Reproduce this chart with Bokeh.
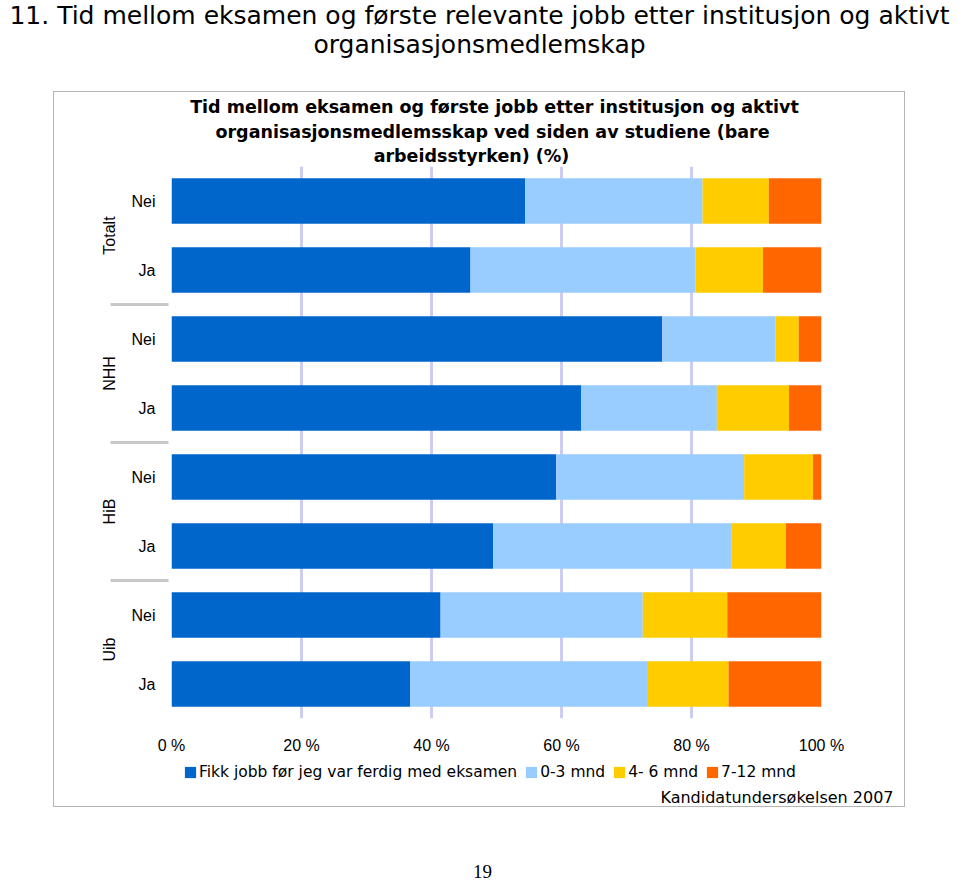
from bokeh.plotting import figure
from bokeh.models import (FactorRange, ColumnDataSource, Label, Range1d,
                          Legend, LegendItem, FixedTicker)
from bokeh.layouts import column
from bokeh.embed import file_html
from bokeh.resources import INLINE

# ---------------- data ----------------
groups = ["Totalt", "NHH", "HiB", "Uib"]
answers = ["Nei", "Ja"]
series_names = ["Fikk jobb før jeg var ferdig med eksamen", "0-3 mnd", "4- 6 mnd", "7-12 mnd"]
series_keys = ["fikk", "m03", "m46", "m712"]
colors = ["#0066cc", "#99ccff", "#ffcc00", "#ff6600"]

# rows top->bottom: Totalt Nei, Totalt Ja, NHH Nei, NHH Ja, HiB Nei, HiB Ja, Uib Nei, Uib Ja
fikk = [54.4, 46.0, 75.5, 63.0, 59.2, 49.5, 41.4, 36.7]
m03 = [27.3, 34.6, 17.4, 20.9, 28.9, 36.7, 31.1, 36.6]
m46 = [10.2, 10.4, 3.6, 11.1, 10.6, 8.3, 13.0, 12.4]
m712 = [8.1, 9.0, 3.5, 5.0, 1.3, 5.5, 14.5, 14.3]

x_ticks = [0, 20, 40, 60, 80, 100]
x_tick_labels = ["0 %", "20 %", "40 %", "60 %", "80 %", "100 %"]

page_title = ["11. Tid mellom eksamen og første relevante jobb etter institusjon og aktivt",
              "organisasjonsmedlemskap"]
chart_title = ["Tid mellom eksamen og første jobb etter institusjon og aktivt",
               "organisasjonsmedlemsskap ved siden av studiene (bare",
               "arbeidsstyrken) (%)"]
source_text = "Kandidatundersøkelsen 2007"
page_number = "19"

FONT = "Liberation Sans"
WIDE = "DejaVu Sans"


def blank_fig(w, h):
    f = figure(width=w, height=h, output_backend="svg", toolbar_location=None,
               x_range=Range1d(0, 1), y_range=Range1d(0, 1),
               x_axis_location=None, y_axis_location=None,
               min_border=0, min_border_left=0, min_border_right=0,
               min_border_top=0, min_border_bottom=0)
    f.outline_line_color = None
    f.grid.grid_line_color = None
    return f


def add_text(f, h, ox, oy, px, py, text, size, align="center", style="normal", font=FONT):
    # px, py: page coordinates; ox, oy: page offset of the figure; h: figure height
    f.add_layout(Label(x=px - ox, y=h - (py - oy), x_units="screen", y_units="screen",
                       text=text, text_font=font, text_font_size=size,
                       text_font_style=style, text_align=align,
                       text_baseline="middle", text_color="black"))


# ---------------- page title ----------------
TOP_H = 92
fig_top = blank_fig(957, TOP_H)
add_text(fig_top, TOP_H, 0, 0, 479, 15, page_title[0], "25px", font=WIDE)
add_text(fig_top, TOP_H, 0, 0, 479, 44, page_title[1], "25px", font=WIDE)

# ---------------- chart title (inside box) ----------------
BOX_X, BOX_Y, BOX_W = 54, 92, 850
CT_H = 74
fig_ct = blank_fig(BOX_W, CT_H)
for txt, xx, yy in zip(chart_title, [494, 492, 471], [106, 131, 155]):
    add_text(fig_ct, CT_H, BOX_X, BOX_Y, xx, yy, txt, "17.5px", style="bold", font=WIDE)

# ---------------- main chart ----------------
rows = [(g, a) for g in groups for a in answers]
factors = list(reversed(rows))  # bottom -> top
src = ColumnDataSource(dict(y=rows, fikk=fikk, m03=m03, m46=m46, m712=m712))

MAIN_H = 595
FRAME_L = 171 - BOX_X
FRAME_R = 821 - BOX_X
FRAME_B = 718 - (BOX_Y + CT_H)
p = figure(width=BOX_W, height=MAIN_H, output_backend="svg", toolbar_location=None,
           x_range=(0, 100),
           y_range=FactorRange(factors=factors, range_padding=0, group_padding=0,
                               factor_padding=0, subgroup_padding=0),
           min_border_left=FRAME_L, min_border_right=BOX_W - FRAME_R,
           min_border_top=0, min_border_bottom=MAIN_H - FRAME_B)
p.outline_line_color = None

renderers = p.hbar_stack(series_keys, y="y", height=0.66, color=colors, source=src,
                         line_color=None)

p.xaxis.ticker = FixedTicker(ticks=x_ticks)
p.xaxis.major_label_overrides = {t: l for t, l in zip(x_ticks, x_tick_labels)}
p.xaxis.axis_line_color = None
p.xaxis.major_tick_line_color = None
p.xaxis.minor_tick_line_color = None
p.xaxis.major_label_standoff = 12
p.xaxis.major_label_text_font = FONT
p.xaxis.major_label_text_font_size = "16px"
p.xaxis.major_label_text_color = "black"

p.yaxis.axis_line_color = None
p.yaxis.major_tick_line_color = None
p.yaxis.major_label_standoff = 10
p.yaxis.major_label_text_font = FONT
p.yaxis.major_label_text_font_size = "16px"
p.yaxis.major_label_text_color = "black"
p.yaxis.group_text_font = FONT
p.yaxis.group_text_font_size = "16px"
p.yaxis.group_text_font_style = "normal"
p.yaxis.group_text_color = "black"
p.yaxis.separator_line_color = "#c8c8c8"
p.yaxis.separator_line_width = 3

p.ygrid.grid_line_color = None
p.xgrid.grid_line_color = "#cdcdf0"
p.xgrid.grid_line_width = 3

# ---------------- legend + source (inside box) ----------------
FOOT_Y = BOX_Y + CT_H + MAIN_H
FOOT_H = 806 - FOOT_Y
fig_ft = blank_fig(BOX_W, FOOT_H)
# one swatch bar per series, far outside the visible range (only the legend shows them)
leg_renderers = [fig_ft.hbar(y=[-50], left=[-50], right=[-49], height=1, color=c, line_color=None)
                 for c in colors]
# legend location = bottom-left corner, in px up from the bottom of the frame
legend = Legend(items=[LegendItem(label=n, renderers=[r]) for n, r in zip(series_names, leg_renderers)],
                orientation="horizontal", location=(183 - BOX_X, FOOT_H - (781 - FOOT_Y)),
                glyph_width=14, glyph_height=14, label_height=16, label_standoff=2,
                spacing=7, padding=0, margin=0, border_line_color=None,
                background_fill_alpha=0,
                label_text_font=WIDE, label_text_font_size="15.5px", label_text_color="black")
fig_ft.add_layout(legend, "center")
add_text(fig_ft, FOOT_H, BOX_X, FOOT_Y, 893, 797, source_text, "16px", align="right", font=WIDE)

box = column(column(fig_ct), column(p), column(fig_ft), spacing=0,
             styles={"outline": "1px solid #b4b4b4"},
             margin=(0, 0, 0, BOX_X))

# ---------------- page number ----------------
BOT_H = 75
fig_bot = blank_fig(957, BOT_H)
fig_bot.margin = (1, 0, 0, 0)
add_text(fig_bot, BOT_H, 0, 807, 482, 871, page_number, "19px", font="Liberation Serif")

layout = column(fig_top, box, fig_bot, spacing=0)

open("out.html", "w").write(file_html(layout, INLINE))
